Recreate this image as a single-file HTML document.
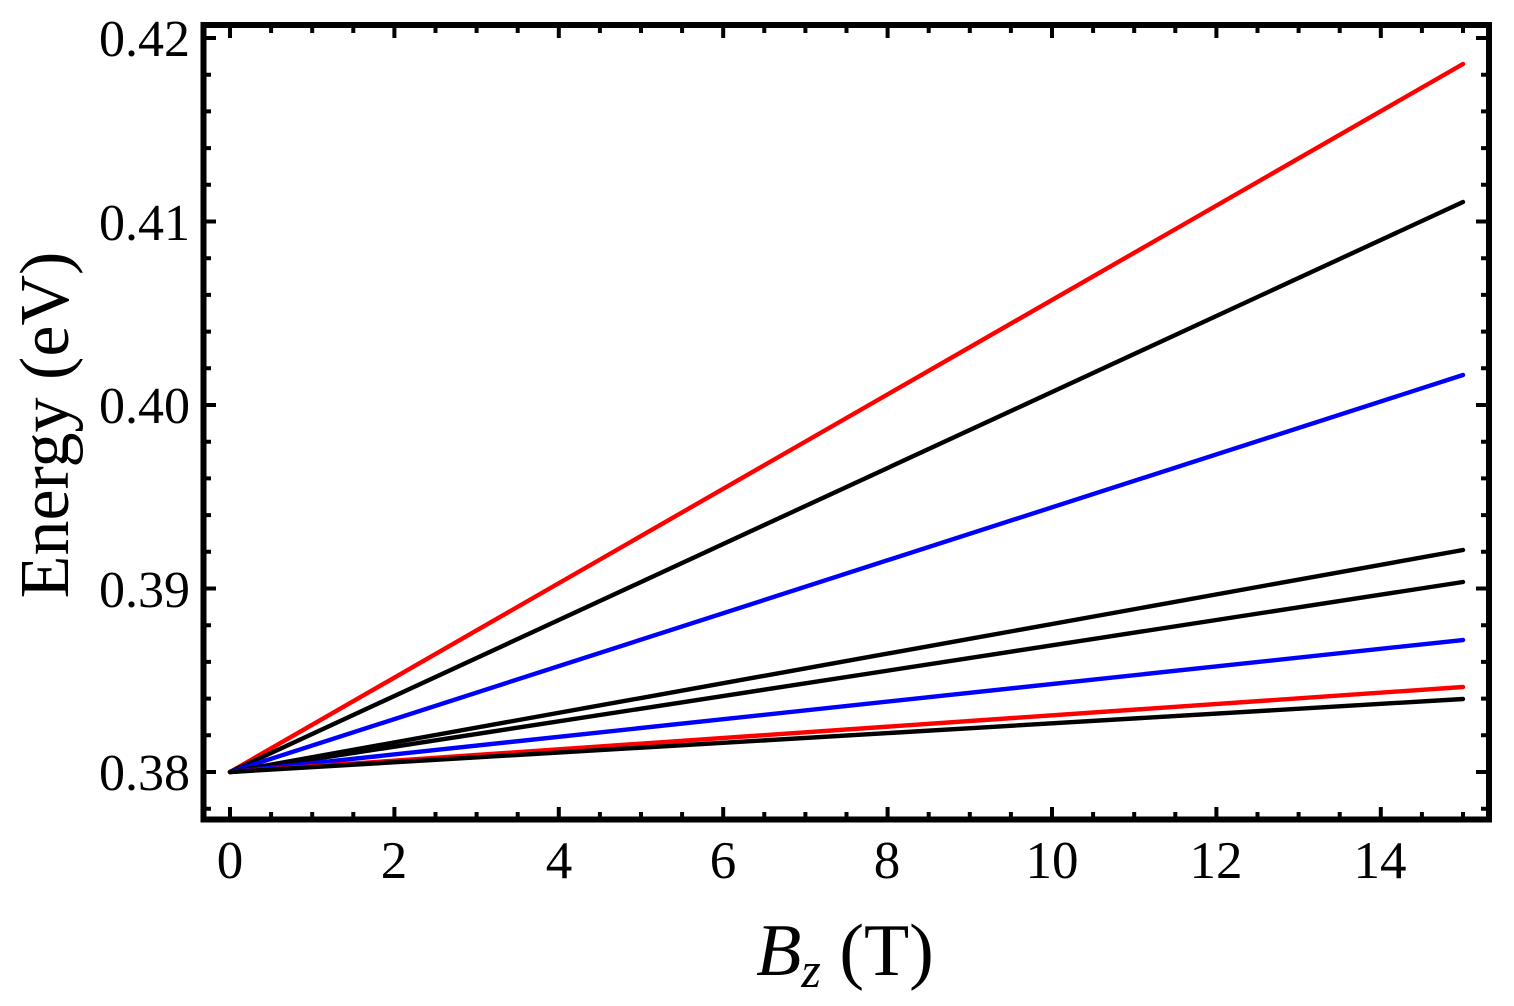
<!DOCTYPE html>
<html><head><style>body{margin:0;background:#fff}</style></head><body>
<svg width="1514" height="1001" xmlns="http://www.w3.org/2000/svg" font-family="Liberation Serif, serif">
<g stroke-width="4.4" fill="none" stroke-linecap="round">
<line x1="230" y1="772" x2="1463" y2="64" stroke="#f00"/>
<line x1="230" y1="772" x2="1463" y2="202" stroke="#000"/>
<line x1="230" y1="772" x2="1463" y2="375" stroke="#00f"/>
<line x1="230" y1="772" x2="1463" y2="550" stroke="#000"/>
<line x1="230" y1="772" x2="1463" y2="582" stroke="#000"/>
<line x1="230" y1="772" x2="1463" y2="640" stroke="#00f"/>
<line x1="230" y1="772" x2="1463" y2="687" stroke="#f00"/>
<line x1="230" y1="772" x2="1463" y2="699" stroke="#000"/>
</g>
<rect x="203.5" y="25" width="1285.5" height="794.5" fill="none" stroke="#000" stroke-width="6"/>
<path stroke="#000" stroke-width="4" fill="none" d="
M230 817v-10M230 28v10 M271.1 817v-5M271.1 28v5 M312.2 817v-5M312.2 28v5 M353.3 817v-5M353.3 28v5
M394.4 817v-10M394.4 28v10 M435.5 817v-5M435.5 28v5 M476.6 817v-5M476.6 28v5 M517.7 817v-5M517.7 28v5
M558.8 817v-10M558.8 28v10 M599.9 817v-5M599.9 28v5 M641 817v-5M641 28v5 M682.1 817v-5M682.1 28v5
M723.2 817v-10M723.2 28v10 M764.3 817v-5M764.3 28v5 M805.4 817v-5M805.4 28v5 M846.5 817v-5M846.5 28v5
M887.6 817v-10M887.6 28v10 M928.7 817v-5M928.7 28v5 M969.8 817v-5M969.8 28v5 M1010.9 817v-5M1010.9 28v5
M1052 817v-10M1052 28v10 M1093.1 817v-5M1093.1 28v5 M1134.2 817v-5M1134.2 28v5 M1175.3 817v-5M1175.3 28v5
M1216.4 817v-10M1216.4 28v10 M1257.5 817v-5M1257.5 28v5 M1298.6 817v-5M1298.6 28v5 M1339.7 817v-5M1339.7 28v5
M1380.8 817v-10M1380.8 28v10 M1421.9 817v-5M1421.9 28v5 M1463 817v-5M1463 28v5
M206 808.7h5M1486 808.7h-5 M206 772h10M1486 772h-10 M206 735.3h5M1486 735.3h-5 M206 698.6h5M1486 698.6h-5
M206 661.9h5M1486 661.9h-5 M206 625.2h5M1486 625.2h-5 M206 588.5h10M1486 588.5h-10 M206 551.8h5M1486 551.8h-5
M206 515.1h5M1486 515.1h-5 M206 478.4h5M1486 478.4h-5 M206 441.7h5M1486 441.7h-5 M206 405h10M1486 405h-10
M206 368.3h5M1486 368.3h-5 M206 331.6h5M1486 331.6h-5 M206 294.9h5M1486 294.9h-5 M206 258.2h5M1486 258.2h-5
M206 221.5h10M1486 221.5h-10 M206 184.8h5M1486 184.8h-5 M206 148.1h5M1486 148.1h-5 M206 111.4h5M1486 111.4h-5
M206 74.7h5M1486 74.7h-5 M206 38h10M1486 38h-10"/>
<g font-size="53" text-anchor="middle">
<text x="230" y="878">0</text><text x="394" y="878">2</text><text x="559" y="878">4</text><text x="723" y="878">6</text><text x="887" y="878">8</text><text x="1052" y="878">10</text><text x="1216" y="878">12</text><text x="1380" y="878">14</text>
</g>
<g font-size="52" text-anchor="end">
<text x="190" y="790">0.38</text><text x="190" y="607">0.39</text><text x="190" y="423">0.40</text><text x="190" y="240">0.41</text><text x="190" y="56">0.42</text>
</g>
<text x="845" y="975" font-size="74" text-anchor="middle"><tspan font-style="italic">B</tspan><tspan font-style="italic" font-size="50" dy="12">z</tspan><tspan dy="-12"> (T)</tspan></text>
<text transform="translate(68,425) rotate(-90)" font-size="70" text-anchor="middle">Energy (eV)</text>
</svg>
</body></html>
